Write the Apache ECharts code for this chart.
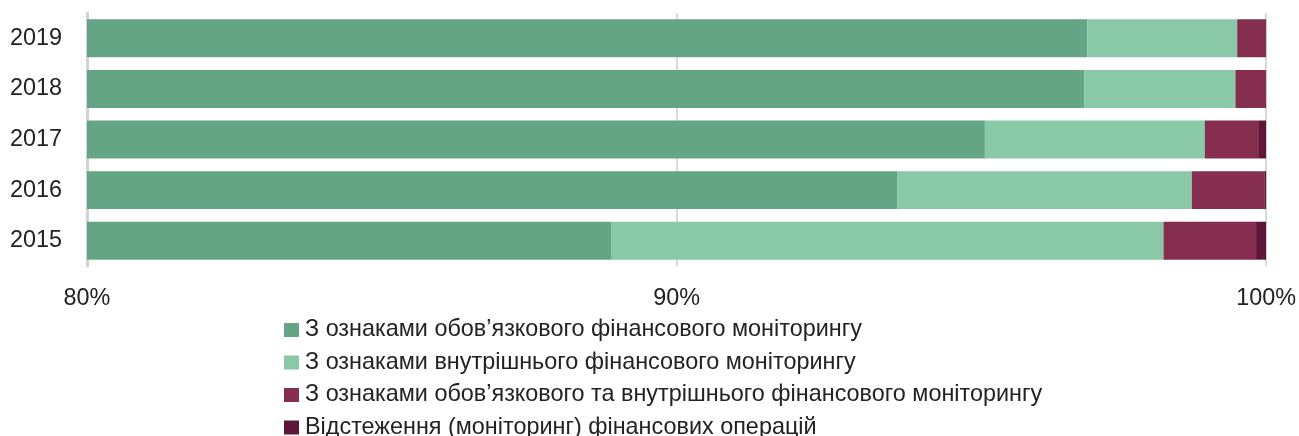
<!DOCTYPE html>
<html>
<head>
<meta charset="utf-8">
<script src="https://cdn.jsdelivr.net/npm/echarts@6/dist/echarts.min.js"></script>
<style>
  html, body { margin: 0; padding: 0; background: #fff; }
  #chart { width: 1299px; height: 436px; }
</style>
</head>
<body>
<div id="chart"></div>
<script>
// Years on the category axis (top to bottom: 2019 ... 2015)
const years = ['2015', '2016', '2017', '2018', '2019'];

// Shares of each type of operation, % of total, per year
const mandatory = [88.90, 93.75, 95.23, 96.92, 96.97];
const internal  = [9.36, 4.99, 3.73, 2.56, 2.54];
const both      = [1.57, 1.23, 0.92, 0.52, 0.49];
const tracking  = [0.17, 0.03, 0.12, 0.00, 0.00];

const seriesNames = [
  'З ознаками обов’язкового фінансового моніторингу',
  'З ознаками внутрішнього фінансового моніторингу',
  'З ознаками обов’язкового та внутрішнього фінансового моніторингу',
  'Відстеження (моніторинг) фінансових операцій'
];
const seriesColors = ['#64a586', '#8ac9a8', '#862e4f', '#5c1637'];
const seriesValues = [mandatory, internal, both, tracking];

const xTicks = { min: 80, max: 100, step: 10 };

const chart = echarts.init(document.getElementById('chart'), null, { renderer: 'canvas' });

const font = '"Liberation Sans", Arial, sans-serif';

chart.setOption({
  animation: false,
  grid: { left: 87, right: 29, top: 13, bottom: 170, containLabel: false },
  xAxis: {
    type: 'value',
    min: xTicks.min,
    max: xTicks.max,
    interval: xTicks.step,
    axisLine: { show: false },
    axisTick: { show: false },
    splitLine: { show: true, lineStyle: { color: '#dadada', width: 2 } },
    axisLabel: {
      formatter: v => v + '%',
      color: '#222',
      fontFamily: font,
      fontSize: 23.4,
      margin: 21
    }
  },
  yAxis: {
    type: 'category',
    data: years,
    axisLine: { show: true, lineStyle: { color: '#d3d3d3', width: 3 } },
    axisTick: { show: false },
    axisLabel: { color: '#222', fontFamily: font, fontSize: 23.4, margin: 25 }
  },
  legend: {
    orient: 'vertical',
    left: 284,
    top: 318.5,
    height: 200,
    padding: 0,
    itemWidth: 15,
    itemHeight: 14,
    itemGap: 9.5,
    icon: 'rect',
    textStyle: { color: '#222', fontFamily: font, fontSize: 23.4, lineHeight: 23, padding: [0, 0, 0, 1] },
    data: seriesNames
  },
  series: seriesNames.map((name, i) => ({
    name,
    type: 'bar',
    stack: 'total',
    barCategoryGap: '25%',
    clip: true,
    itemStyle: { color: seriesColors[i] },
    data: seriesValues[i]
  }))
});
</script>
</body>
</html>
